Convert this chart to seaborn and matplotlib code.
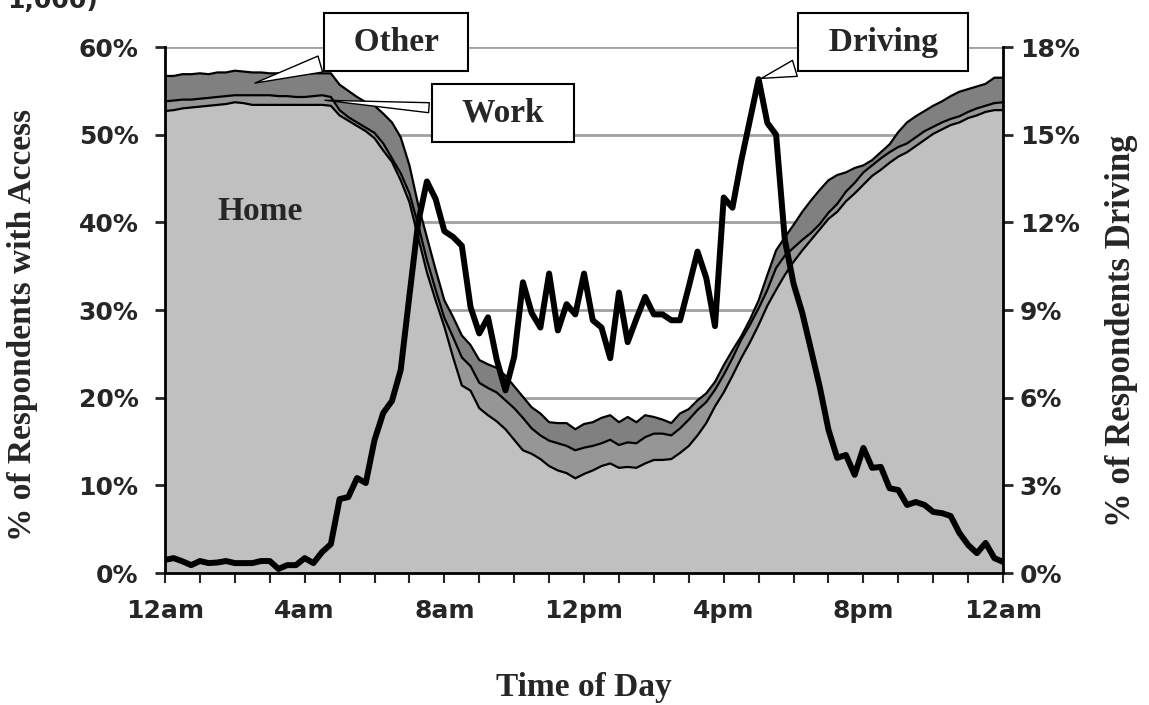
import numpy as np
import matplotlib
matplotlib.use("Agg")
import matplotlib.pyplot as plt
import seaborn as sns

# 15-minute slots from 12am to 12am (97 points)
slots = np.arange(97) / 4.0

# cumulative tops of the stacked access areas (% of respondents)
home_top = [52.7, 52.8, 53.0, 53.1, 53.2, 53.3, 53.4, 53.5, 53.7, 53.6, 53.4, 53.4, 53.4, 53.4, 53.4, 53.4,
            53.4, 53.4, 53.4, 53.3, 52.2, 51.6, 51.0, 50.4, 49.6, 48.2, 46.9, 44.8, 42.3, 38.3, 34.3, 31.1,
            28.1, 24.6, 21.4, 20.8, 18.8, 18.0, 17.3, 16.4, 15.2, 14.0, 13.6, 13.0, 12.2, 11.7, 11.4, 10.8,
            11.3, 11.7, 12.2, 12.5, 12.0, 12.1, 12.0, 12.5, 12.9, 12.9, 13.0, 13.7, 14.5, 15.7, 17.1, 19.0,
            20.6, 22.5, 24.5, 26.3, 28.3, 30.5, 32.3, 34.0, 35.5, 36.8, 38.0, 39.2, 40.4, 41.2, 42.4, 43.3,
            44.3, 45.3, 46.0, 46.8, 47.5, 48.0, 48.7, 49.4, 50.1, 50.6, 51.1, 51.4, 51.9, 52.2, 52.6, 52.8, 52.8]
work_top = [53.8, 53.9, 54.0, 54.0, 54.1, 54.2, 54.3, 54.4, 54.5, 54.5, 54.5, 54.5, 54.5, 54.4, 54.4, 54.3,
            54.3, 54.4, 54.5, 54.3, 52.8, 52.0, 51.4, 50.8, 50.2, 49.0, 47.3, 45.6, 43.3, 39.7, 35.7, 32.3,
            29.1, 26.9, 24.6, 23.6, 21.7, 21.1, 20.6, 19.7, 18.8, 17.7, 16.5, 15.7, 15.1, 14.8, 14.5, 14.0,
            14.3, 14.5, 14.8, 15.2, 14.6, 14.9, 14.8, 15.5, 15.9, 15.9, 15.7, 16.5, 17.5, 18.6, 19.5, 20.9,
            22.6, 24.5, 26.6, 28.3, 30.2, 32.3, 34.8, 36.2, 37.1, 38.0, 38.8, 39.8, 41.1, 42.1, 43.5, 44.5,
            45.7, 46.5, 47.3, 48.0, 48.6, 49.0, 49.7, 50.4, 50.9, 51.4, 51.8, 52.1, 52.6, 53.0, 53.3, 53.6, 53.7]
other_top = [56.7, 56.7, 56.9, 56.9, 57.0, 56.9, 57.1, 57.1, 57.3, 57.2, 57.1, 57.1, 57.0, 57.0, 57.0, 57.0,
             57.0, 57.0, 57.0, 57.0, 55.7, 55.0, 54.3, 53.7, 53.3, 52.4, 51.4, 49.7, 46.5, 42.0, 38.3, 34.6,
             31.1, 29.2, 27.1, 26.0, 24.3, 23.8, 23.4, 22.5, 21.3, 20.1, 18.9, 18.2, 17.2, 17.1, 17.1, 16.4,
             17.0, 17.2, 17.7, 18.0, 17.2, 17.8, 17.2, 18.0, 17.8, 17.5, 17.1, 18.2, 18.7, 19.7, 20.5, 21.8,
             23.7, 25.4, 27.0, 28.9, 31.1, 34.0, 36.8, 38.3, 39.7, 41.2, 42.5, 43.7, 44.8, 45.4, 45.7, 46.2,
             46.5, 47.1, 48.0, 48.9, 50.3, 51.4, 52.1, 52.7, 53.3, 53.8, 54.4, 54.9, 55.2, 55.5, 55.8, 56.5, 56.5]

# % of respondents driving (right axis)
driving = [0.45, 0.51, 0.40, 0.27, 0.41, 0.34, 0.36, 0.41, 0.34, 0.34, 0.34, 0.41, 0.41, 0.14, 0.27, 0.27,
           0.51, 0.34, 0.72, 0.99, 2.53, 2.60, 3.25, 3.08, 4.55, 5.48, 5.89, 6.95, 9.5, 12.0, 13.4, 12.8,
           11.7, 11.5, 11.2, 9.1, 8.2, 8.75, 7.3, 6.25, 7.4, 9.95, 8.9, 8.4, 10.25, 8.3, 9.2, 8.85,
           10.25, 8.65, 8.4, 7.35, 9.6, 7.9, 8.7, 9.45, 8.85, 8.85, 8.65, 8.65, 9.8, 11.0, 10.1, 8.45,
           12.85, 12.5, 14.1, 15.5, 16.9, 15.4, 15.0, 11.4, 9.9, 8.9, 7.64, 6.37, 4.9, 3.94, 4.04, 3.36,
           4.28, 3.6, 3.63, 2.9, 2.84, 2.33, 2.43, 2.33, 2.09, 2.05, 1.95, 1.37, 0.96, 0.68, 1.03, 0.51, 0.38]

hour_ticks = [0, 4, 8, 12, 16, 20, 24]
hour_labels = ['12am', '4am', '8am', '12pm', '4pm', '8pm', '12am']

sns.set_style('white')
plt.rcParams['font.family'] = ['DejaVu Sans']
serif = ['Liberation Serif', 'DejaVu Serif']

fig = plt.figure(figsize=(11.49, 7.05), dpi=100)
ax = fig.add_axes([0.1436, 0.1872, 0.7294, 0.7461])

# stacked areas
ax.fill_between(slots, 0, home_top, color='#C0C0C0', lw=0, zorder=2)
ax.fill_between(slots, home_top, work_top, color='#969696', lw=0, zorder=2)
ax.fill_between(slots, work_top, other_top, color='#808080', lw=0, zorder=2)
for top in (home_top, work_top, other_top):
    sns.lineplot(x=slots, y=top, ax=ax, color='black', lw=1.6, zorder=3)

ax.set_xlim(0, 24)
ax.set_ylim(0, 60)
ax.set_yticks(range(0, 61, 10))
ax.set_yticklabels([f'{v}%' for v in range(0, 61, 10)])
ax.set_xticks(hour_ticks)
ax.set_xticklabels(hour_labels)
ax.set_xticks(range(25), minor=True)
ax.yaxis.grid(True, color='#A0A0A0', lw=2, zorder=0)
ax.set_axisbelow(True)
ax.tick_params(axis='y', which='major', direction='out', length=7, width=2, pad=12,
               labelsize=18, left=True)
ax.tick_params(axis='x', which='both', direction='out', length=7, width=1.5, pad=12,
               labelsize=18, bottom=True)
for lab in ax.get_xticklabels() + ax.get_yticklabels():
    lab.set_fontweight('bold')
for side in ('left', 'bottom'):
    ax.spines[side].set_linewidth(2)
    ax.spines[side].set_color('black')
ax.spines['top'].set_visible(False)
ax.spines['right'].set_visible(False)
ax.set_xlabel('')
ax.set_ylabel('')

# driving line on the right axis
ax2 = ax.twinx()
sns.lineplot(x=slots, y=driving, ax=ax2, color='black', lw=4.3, zorder=4)
ax2.set_ylim(0, 18)
ax2.set_yticks(range(0, 19, 3))
ax2.set_yticklabels([f'{v}%' for v in range(0, 19, 3)])
ax2.tick_params(axis='y', direction='out', length=7, width=2, pad=5, labelsize=18, right=True)
for lab in ax2.get_yticklabels():
    lab.set_fontweight('bold')
for side in ('top', 'left', 'bottom'):
    ax2.spines[side].set_visible(False)
ax2.spines['right'].set_linewidth(2)
ax2.spines['right'].set_color('black')
ax2.set_ylabel('')
ax2.grid(False)

# axis titles
fig.text(0.5083, 0.0255, 'Time of Day', family=serif, weight='bold', fontsize=24,
         ha='center', va='center')
fig.text(0.0200, 0.539, '% of Respondents with Access', family=serif, weight='bold', fontsize=24,
         rotation=90, ha='center', va='center')
fig.text(0.9765, 0.5305, '% of Respondents Driving', family=serif, weight='bold', fontsize=25,
         rotation=90, ha='center', va='center')

# callouts
box = dict(boxstyle='square,pad=0.4', fc='white', ec='black', lw=1.5)
wedge = dict(arrowstyle='wedge,tail_width=0.5,shrink_factor=0.5', fc='white', ec='black', lw=1)
peak = int(np.argmax(driving))
ax2.annotate('  Driving  ', xy=(slots[peak], driving[peak]), xytext=(0.7685, 0.9404),
             textcoords='figure fraction', ha='center', va='center', family=serif,
             weight='bold', fontsize=24, bbox=box, arrowprops=wedge, annotation_clip=False)
ax2.annotate('  Other  ', xy=(slots[10], (work_top[10] + other_top[10]) / 2), xycoords=ax.transData,
             xytext=(0.3447, 0.9404), textcoords='figure fraction', ha='center', va='center',
             family=serif, weight='bold', fontsize=24, bbox=box, arrowprops=wedge,
             annotation_clip=False)
ax2.annotate('  Work  ', xy=(slots[18], (home_top[18] + work_top[18]) / 2), xycoords=ax.transData,
             xytext=(0.4378, 0.8397), textcoords='figure fraction', ha='center', va='center',
             family=serif, weight='bold', fontsize=24, bbox=box,
             arrowprops=dict(arrowstyle='wedge,tail_width=0.3,shrink_factor=0.5', fc='white',
                             ec='black', lw=1),
             annotation_clip=False)
ax.text(2.72, 41.2, 'Home', family=serif, weight='bold', fontsize=24, ha='center', va='center',
        zorder=5)

# clipped title remnant at the very top
fig.text(7 / 1149, 1 - 8 / 705, '1,000)', fontsize=18, weight='bold', ha='left', va='baseline')

fig.savefig('out.png', dpi=100)
